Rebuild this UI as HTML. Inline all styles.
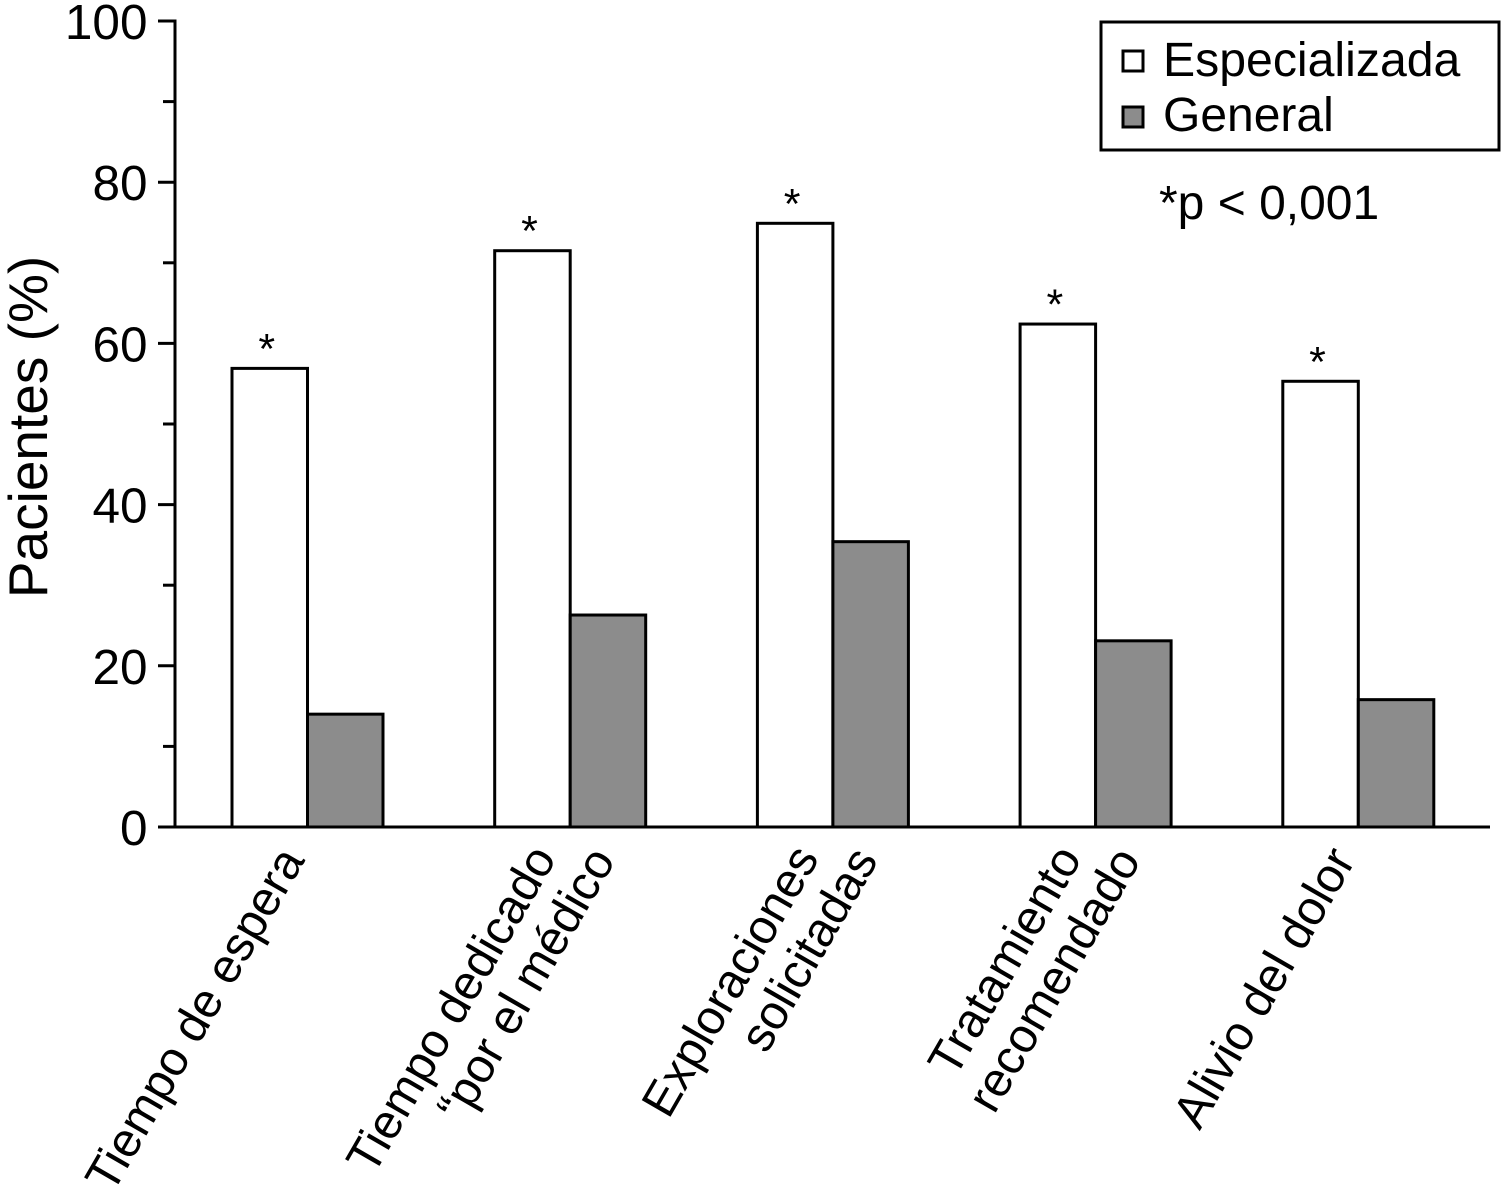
<!DOCTYPE html>
<html lang="es">
<head>
<meta charset="utf-8">
<title>Pacientes (%)</title>
<style>
html,body{margin:0;padding:0;background:#fff;}
svg{display:block;}
text{font-family:"Liberation Sans",Arial,sans-serif;fill:#000;}
</style>
</head>
<body>
<svg id="chart" xmlns="http://www.w3.org/2000/svg" width="1502" height="1202" viewBox="0 0 1502 1202"></svg>
<script>
const categories = ["Tiempo de espera", "Tiempo dedicado por el médico", "Exploraciones solicitadas", "Tratamiento recomendado", "Alivio del dolor"];
const categoryLines = [["Tiempo de espera"], ["Tiempo dedicado", "“por el médico"], ["Exploraciones", "solicitadas"], ["Tratamiento", "recomendado"], ["Alivio del dolor"]];
const especializada = [56.9, 71.5, 74.9, 62.4, 55.3];
const general = [14.0, 26.3, 35.4, 23.1, 15.8];
const yTicks = [0, 20, 40, 60, 80, 100];
const yMinorTicks = [10, 30, 50, 70, 90];

const svg = document.getElementById('chart');
const NS = 'http://www.w3.org/2000/svg';
function add(parent, tag, attrs, text) {
  const el = document.createElementNS(NS, tag);
  for (const k in attrs) el.setAttribute(k, attrs[k]);
  if (text !== undefined) el.textContent = text;
  parent.appendChild(el);
  return el;
}
const y0 = 827, y100 = 21, xAxis0 = 175, xAxis1 = 1490;
const firstCenter = 307.5, groupStep = 262.7, barW = 75.5;
function yScale(v) { return y0 + (y100 - y0) * v / 100; }
function xScale(i) { return firstCenter + groupStep * i; }

const ticksGroup = add(svg, 'g', {});


yTicks.forEach(function (t) {
  const line = add(ticksGroup, 'line', {x1: 158, x2: xAxis0, y1: yScale(t), y2: yScale(t), stroke: '#000', 'stroke-width': 3});
  
  
  const label = add(ticksGroup, 'text', {x: 147.5, y: yScale(t) + 18, 'text-anchor': 'end', 'font-size': 49.5}, String(t));
  
  
});
yMinorTicks.forEach(function (t) {
  const line = add(ticksGroup, 'line', {x1: 163, x2: xAxis0, y1: yScale(t), y2: yScale(t), stroke: '#000', 'stroke-width': 3});
  
  
});

categories.forEach(function (name, i) {
  const cx = xScale(i);
  const a = add(svg, 'rect', {x: cx - barW, y: yScale(especializada[i]), width: barW, height: y0 - yScale(especializada[i]), fill: '#fff', stroke: '#000', 'stroke-width': 3});
  
  
  const b = add(svg, 'rect', {x: cx, y: yScale(general[i]), width: barW, height: y0 - yScale(general[i]), fill: '#8c8c8c', stroke: '#000', 'stroke-width': 3});
  
  
  const star = add(svg, 'text', {x: cx - barW / 2 - 3, y: yScale(especializada[i]) - 5, 'text-anchor': 'middle', 'font-size': 43}, '*');
  
  
  const lines = categoryLines[i];
  lines.forEach(function (ln, j) {
    let ax = cx - 2, ay = 860;
    if (lines.length > 1) {
      ax = j === 0 ? cx - 13 : cx + 46;
      ay = j === 0 ? 858 : 860;
    }
    const t = add(svg, 'text', {transform: 'translate(' + ax + ',' + ay + ') rotate(-60)', 'text-anchor': 'end', 'font-size': 48.2}, ln);
    
    
  });
});

const yAxis = add(svg, 'line', {x1: xAxis0, x2: xAxis0, y1: y100 - 1.5, y2: y0 + 1.5, stroke: '#000', 'stroke-width': 3});


const xAxis = add(svg, 'line', {x1: xAxis0, x2: xAxis1, y1: y0, y2: y0, stroke: '#000', 'stroke-width': 3});



const yTitle = add(svg, 'text', {transform: 'translate(47,427) rotate(-90)', 'text-anchor': 'middle', 'font-size': 55}, 'Pacientes (%)');



const legend = add(svg, 'g', {});


const legendBox = add(legend, 'rect', {x: 1101, y: 22, width: 398, height: 128, fill: '#fff', stroke: '#000', 'stroke-width': 3});


const sw1 = add(legend, 'rect', {x: 1123, y: 51, width: 20, height: 20, fill: '#fff', stroke: '#000', 'stroke-width': 3});


const l1 = add(legend, 'text', {x: 1163, y: 76, 'font-size': 48.2}, 'Especializada');


const sw2 = add(legend, 'rect', {x: 1123, y: 107, width: 20, height: 20, fill: '#8c8c8c', stroke: '#000', 'stroke-width': 3});


const l2 = add(legend, 'text', {x: 1163, y: 131, 'font-size': 48}, 'General');



const pNote = add(svg, 'text', {x: 1159, y: 219, 'font-size': 48}, '*p < 0,001');


</script>
</body>
</html>
